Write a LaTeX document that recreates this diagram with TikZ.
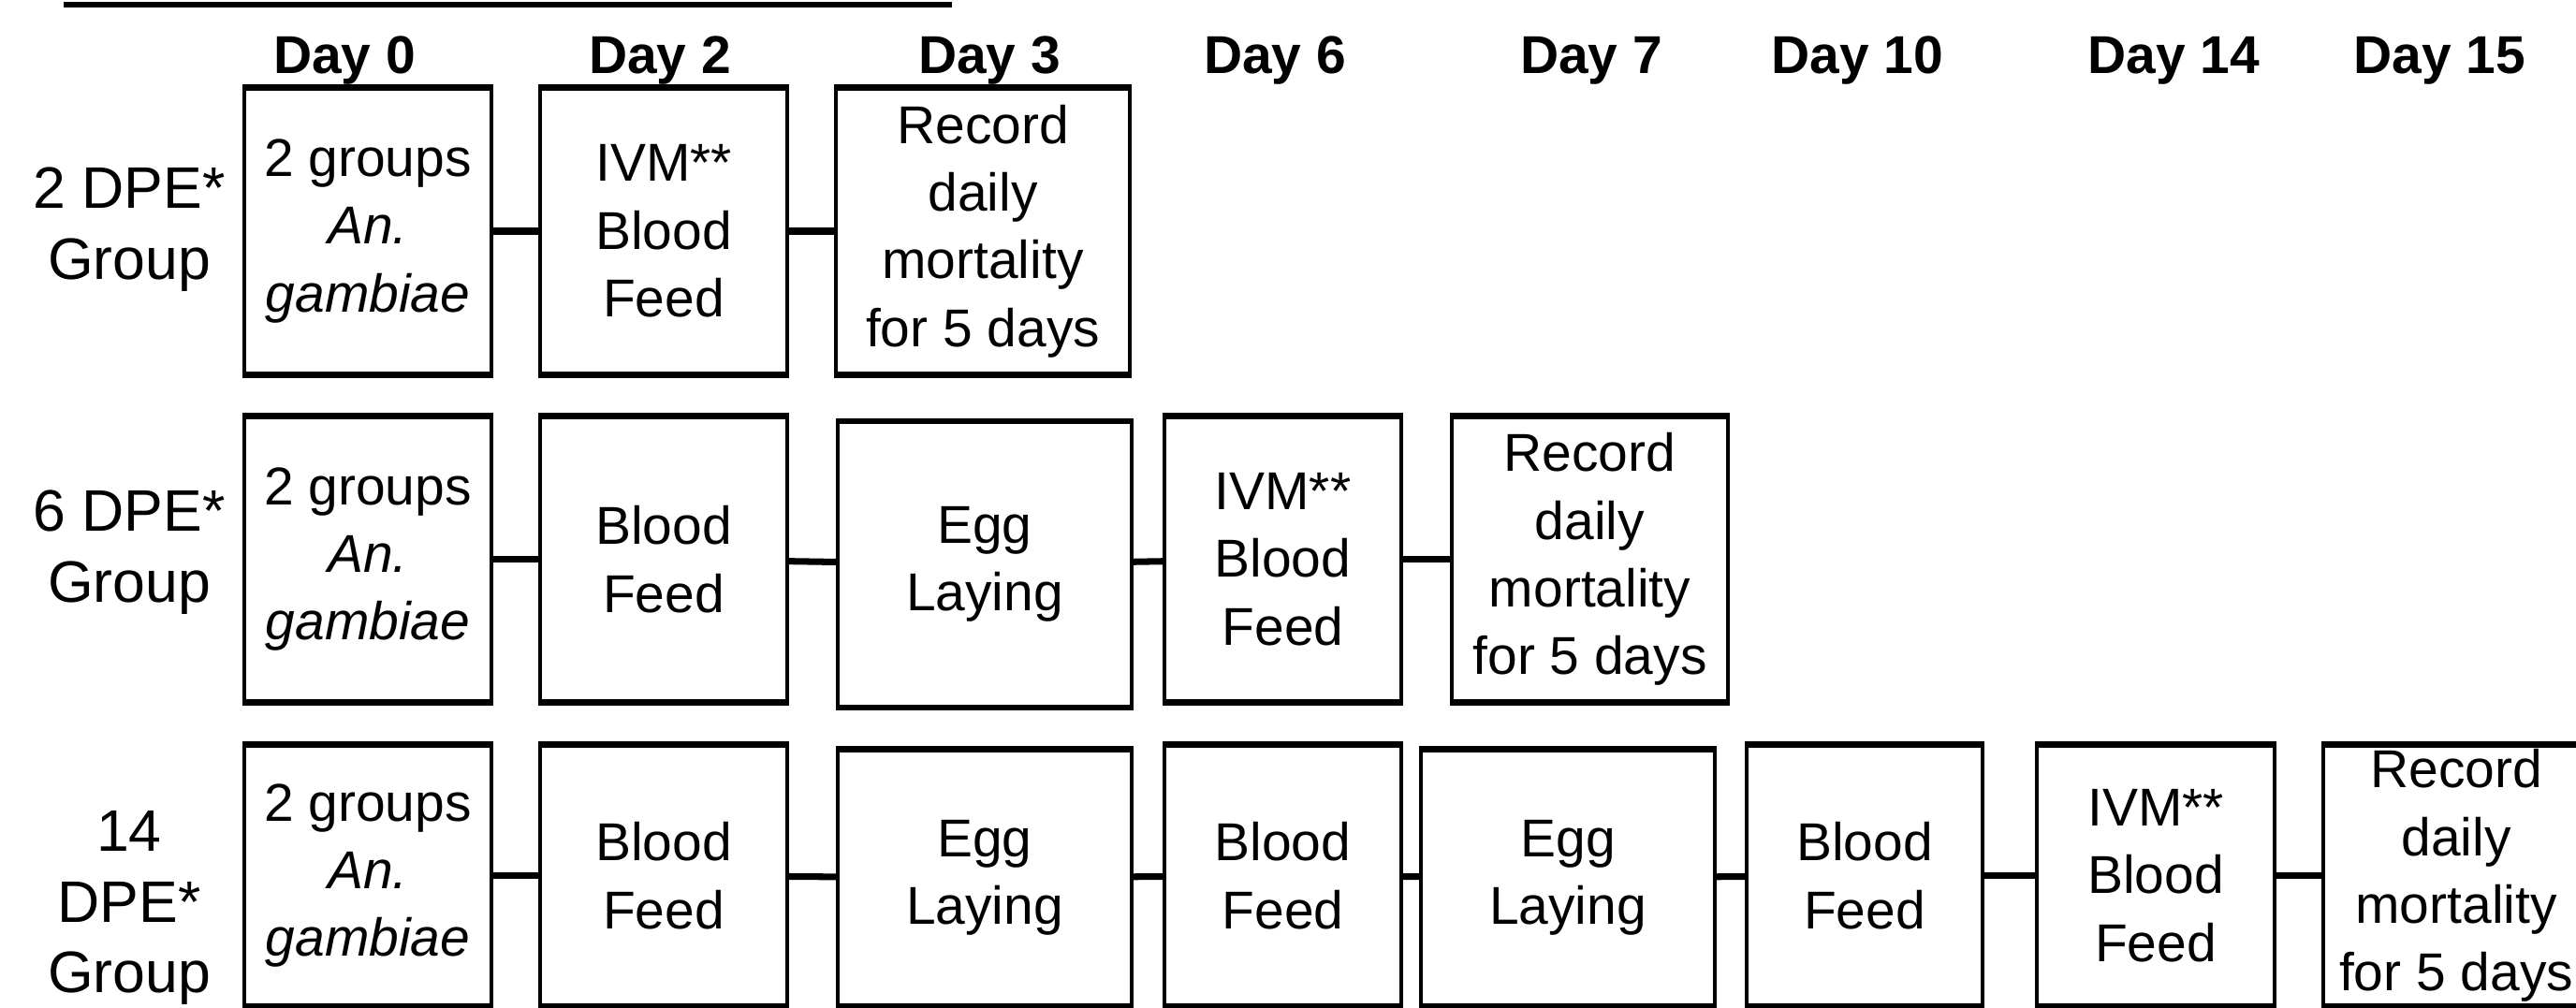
\documentclass[tikz,border=0pt]{standalone}
\usepackage{fontspec}
\setmainfont{Liberation Sans}
\usepackage{tikz}
\usetikzlibrary{positioning}

\newcommand{\boxfont}{\fontsize{16.2}{20.6}\selectfont}
\newcommand{\grpfont}{\fontsize{17.8}{21.5}\selectfont}
\newcommand{\dayfont}{\fontsize{16.2}{19}\selectfont\bfseries}

\begin{document}
\begin{tikzpicture}[line cap=butt,line join=miter,x=1cm,y=1cm,
    stage/.style={draw, line width=1.1pt, inner sep=0pt, align=center, font=\boxfont},
    rowone/.style={stage, minimum height=3.04cm},
    rowtwo/.style={stage, minimum height=3.03cm},
    rowthree/.style={stage, minimum height=2.77cm},
    grp/.style={align=center, inner sep=0pt, font=\grpfont},
    day/.style={anchor=base, inner sep=0pt, font=\dayfont},
    link/.style={line width=2pt},
    rim/.style={line width=1.7pt}]
                \useasboundingbox (0,0) rectangle (27.52,-10.76);
                % title rule (title itself is cut off)
                \draw [line width=0.06cm] (0.68,-0.045)-- (10.17,-0.045);
                % days
                \node[day] (d0) at (3.68,-0.78) {Day 0};
                \node[day] (d2) at (7.05,-0.78) {Day 2};
                \node[day] (d3) at (10.57,-0.78) {Day 3};
                \node[day] (d6) at (13.62,-0.78) {Day 6};
                \node[day] (d7) at (17.00,-0.78) {Day 7};
                \node[day] (d10) at (19.84,-0.78) {Day 10};
                \node[day] (d14) at (23.22,-0.78) {Day 14};
                \node[day] (d15) at (26.06,-0.78) {Day 15};
                % 2 DPE
                \node[grp] (g2) at (1.38,-2.45) {2 DPE*\\Group};
                \node[rowone, minimum width=2.64cm] (r1a) at (3.93,-2.47) {2 groups\\\textit{An.}\\\textit{gambiae}};
                \node[rowone, minimum width=2.64cm] (r1b) at (7.09,-2.47) {IVM**\\Blood\\Feed};
                \node[rowone, minimum width=3.14cm] (r1c) at (10.50,-2.47) {Record\\daily\\mortality\\for 5 days};
                % 6 DPE
                \node[grp] (g6) at (1.38,-5.90) {6 DPE*\\Group};
                \node[rowtwo, minimum width=2.64cm] (r2a) at (3.93,-5.975) {2 groups\\\textit{An.}\\\textit{gambiae}};
                \node[rowtwo, minimum width=2.64cm] (r2b) at (7.09,-5.975) {Blood\\Feed};
                \node[rowtwo, minimum width=3.14cm] (r2c) at (10.52,-6.03) {Egg\\Laying};
                \node[rowtwo, minimum width=2.53cm] (r2d) at (13.705,-5.975) {IVM**\\Blood\\Feed};
                \node[rowtwo, minimum width=2.95cm] (r2e) at (16.985,-5.975) {Record\\daily\\mortality\\for 5 days};
                % 14 DPE
                \node[grp] (g14) at (1.38,-9.70) {14\\DPE*\\Group};
                \node[rowthree, minimum width=2.64cm] (r3a) at (3.93,-9.355) {2 groups\\\textit{An.}\\\textit{gambiae}};
                \node[rowthree, minimum width=2.64cm] (r3b) at (7.09,-9.355) {Blood\\Feed};
                \node[rowthree, minimum width=3.14cm, minimum height=2.72cm] (r3c) at (10.52,-9.38) {Egg\\Laying};
                \node[rowthree, minimum width=2.53cm] (r3d) at (13.705,-9.355) {Blood\\Feed};
                \node[rowthree, minimum width=3.14cm, minimum height=2.72cm] (r3e) at (16.75,-9.38) {Egg\\Laying};
                \node[rowthree, minimum width=2.52cm] (r3f) at (19.92,-9.355) {Blood\\Feed};
                \node[rowthree, minimum width=2.54cm] (r3g) at (23.03,-9.355) {IVM**\\Blood\\Feed};
                \node[rowthree, minimum width=2.84cm] (r3h) at (26.24,-9.355) {Record\\daily\\mortality\\for 5 days};
                % heavier top and bottom edges
                \foreach \n in {r1a,r1b,r1c,r2a,r2b,r2c,r2d,r2e,r3a,r3b,r3c,r3d,r3e,r3f,r3g,r3h}
                    \draw [rim] (\n.north west)-- (\n.north east) (\n.south west)-- (\n.south east);
                % connectors
                \foreach \a/\b in {r1a/r1b,r1b/r1c,r2a/r2b,r2b/r2c,r2c/r2d,r2d/r2e,r3a/r3b,r3b/r3c,r3c/r3d,r3d/r3e,r3e/r3f,r3f/r3g,r3g/r3h}
                    \draw [link] (\a)-- (\b);
\end{tikzpicture}
\end{document}
